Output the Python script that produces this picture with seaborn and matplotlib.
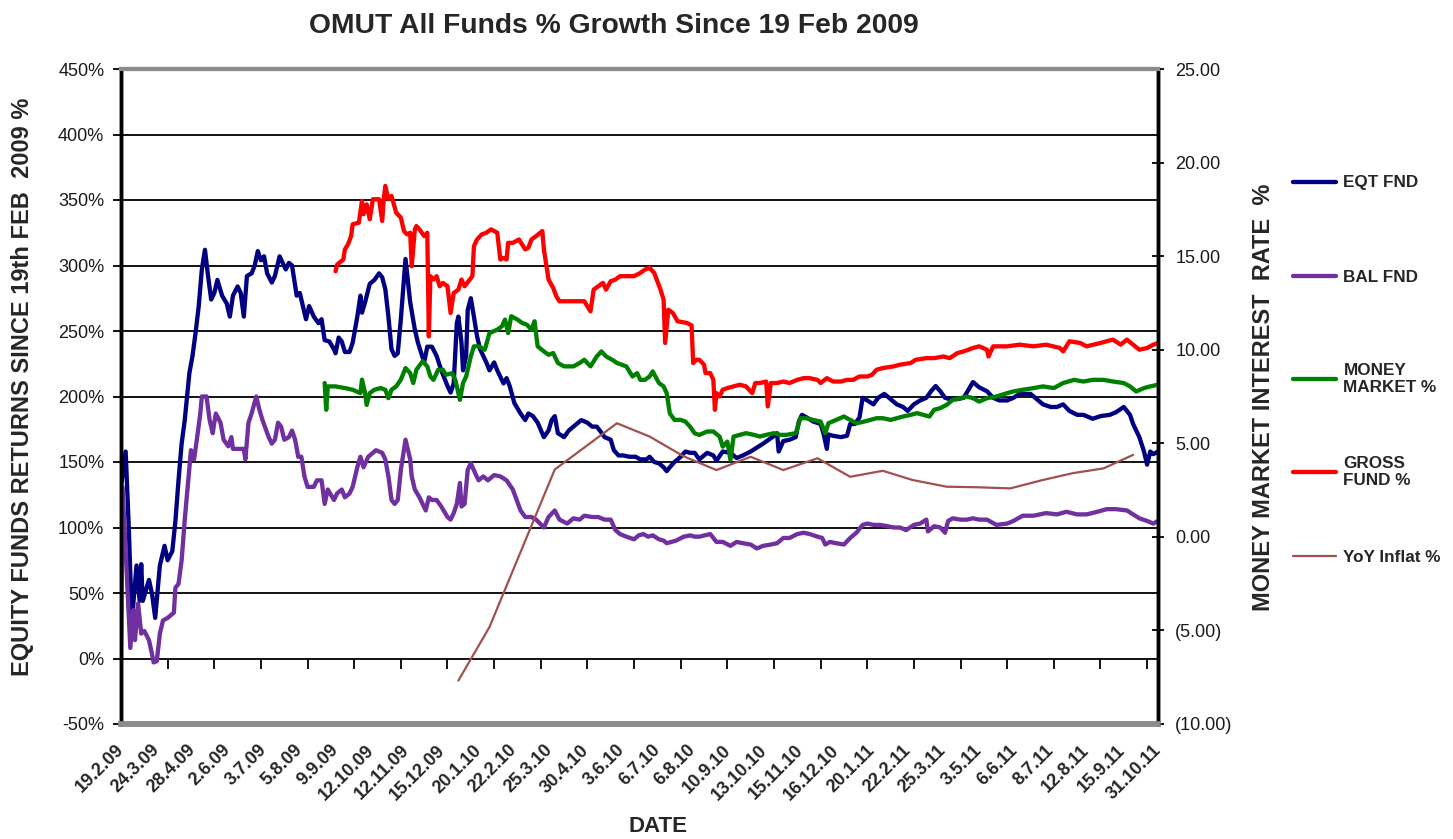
import matplotlib
matplotlib.use("Agg")
import matplotlib.pyplot as plt
import seaborn as sns
from matplotlib.ticker import MultipleLocator, FuncFormatter
from matplotlib.lines import Line2D

# ---------------- data (x = trading-day index since 19.2.09) ----------------
date_labels = ["19.2.09", "24.3.09", "28.4.09", "2.6.09", "3.7.09", "5.8.09", "9.9.09",
               "12.10.09", "12.11.09", "15.12.09", "20.1.10", "22.2.10", "25.3.10", "30.4.10",
               "3.6.10", "6.7.10", "6.8.10", "10.9.10", "13.10.10", "15.11.10", "16.12.10",
               "20.1.11", "22.2.11", "25.3.11", "3.5.11", "6.6.11", "8.7.11", "12.8.11",
               "15.9.11", "31.10.11"]
last_day = 667
label_every = 23
tick_every = 30

eqt_day = [0, 3, 5, 7, 10, 12, 13, 14, 18, 20, 22, 25, 28, 30, 33, 35, 37, 39, 41, 44, 46, 48, 50,
           52, 54, 56, 58, 60, 62, 65, 68, 70, 72, 75, 77, 79, 81, 84, 86, 88, 90, 92, 94, 97, 99,
           102, 104, 106, 108, 110, 113, 115, 117, 119, 121, 124, 127, 129, 131, 134, 137, 138,
           140, 142, 144, 147, 149, 152, 154, 155, 157, 160, 163, 166, 168, 170, 172, 174, 176,
           178, 180, 183, 186, 189, 191, 195, 197, 200, 203, 206, 210, 212, 214, 216, 217, 219,
           220, 222, 223, 225, 227, 229, 231, 233, 235, 237, 240, 242, 244, 246, 248, 250, 253,
           257, 260, 262, 265, 268, 272, 275, 277, 279, 281, 285, 288, 291, 294, 296, 300, 303,
           306, 308, 311, 315, 317, 320, 323, 327, 331, 334, 338, 340, 343, 346, 349, 351, 353,
           356, 360, 363, 366, 369, 372, 377, 381, 383, 387, 392, 396, 400, 405, 409, 413, 419,
           422, 423, 426, 430, 434, 436, 438, 441, 445, 450, 452, 454, 455, 458, 463, 467, 469,
           472, 475, 477, 480, 484, 487, 491, 495, 499, 503, 506, 510, 514, 518, 521, 524, 527,
           530, 533, 538, 542, 546, 548, 552, 557, 561, 565, 570, 574, 578, 585, 589, 593, 598,
           602, 606, 610, 615, 619, 625, 630, 636, 640, 645, 649, 651, 653, 655, 658, 660, 662,
           664, 667]
eqt_pct = [131, 158, 100, 29, 71, 44, 72, 44, 60, 49, 31, 71, 86, 75, 82, 105, 136, 164, 182, 218,
           231, 249, 269, 297, 312, 292, 274, 279, 289, 277, 271, 261, 277, 284, 279, 261, 292, 294,
           300, 311, 304, 307, 294, 287, 292, 307, 302, 297, 302, 300, 277, 279, 269, 259, 269, 261,
           256, 259, 243, 242, 236, 233, 245, 242, 234, 234, 241, 261, 277, 264, 272, 286, 289, 294,
           291, 282, 261, 236, 231, 233, 259, 305, 272, 251, 241, 226, 238, 238, 231, 220, 208, 203,
           210, 256, 261, 241, 220, 231, 266, 275, 261, 246, 236, 231, 226, 220, 226, 220, 215, 210,
           214, 208, 195, 187, 182, 187, 185, 180, 169, 174, 182, 185, 172, 169, 174, 177, 180, 182,
           180, 177, 177, 174, 169, 167, 159, 155, 155, 154, 154, 152, 152, 154, 150, 149, 146, 143,
           146, 150, 154, 158, 157, 157, 152, 157, 155, 151, 158, 157, 153, 155, 158, 161, 164, 169,
           172, 158, 166, 167, 169, 181, 186, 184, 181, 179, 171, 160, 171, 170, 169, 170, 179, 179,
           184, 199, 197, 194, 199, 202, 198, 194, 192, 189, 194, 197, 199, 204, 208, 204, 199, 198,
           198, 199, 207, 211, 207, 204, 199, 197, 197, 199, 202, 202, 198, 194, 192, 192, 194, 189,
           186, 186, 183, 185, 186, 188, 192, 186, 179, 174, 169, 158, 148, 158, 156, 158]

bal_day = [0, 1, 6, 8, 9, 11, 13, 15, 18, 20, 21, 23, 25, 27, 30, 34, 35, 37, 39, 41, 44, 45, 47,
           49, 51, 52, 55, 57, 59, 60, 61, 64, 66, 69, 71, 72, 75, 79, 80, 82, 84, 87, 89, 91, 95,
           97, 99, 101, 103, 105, 108, 110, 112, 114, 116, 118, 120, 124, 126, 129, 131, 133, 137,
           139, 142, 144, 147, 149, 152, 154, 156, 159, 162, 164, 168, 170, 172, 174, 176, 178,
           180, 183, 186, 187, 189, 192, 196, 198, 200, 203, 206, 210, 212, 214, 216, 218, 219,
           221, 223, 225, 228, 230, 233, 236, 240, 244, 248, 252, 257, 260, 264, 267, 272, 275,
           279, 282, 287, 291, 295, 298, 303, 307, 311, 315, 318, 321, 325, 330, 333, 336, 339,
           342, 346, 349, 351, 354, 357, 362, 366, 369, 372, 379, 383, 387, 392, 396, 400, 405,
           409, 413, 418, 422, 426, 430, 435, 439, 443, 448, 451, 453, 456, 460, 465, 469, 473,
           477, 480, 484, 488, 493, 497, 501, 505, 510, 514, 518, 519, 523, 527, 530, 532, 535,
           540, 544, 548, 552, 557, 563, 570, 574, 580, 587, 595, 602, 608, 615, 621, 628, 634,
           640, 647, 651, 655, 660, 664, 667]
bal_pct = [0, 131, 8, 37, 14, 42, 19, 21, 14, 3, -3, -2, 19, 29, 31, 35, 54, 57, 75, 106, 146,
           159, 152, 169, 187, 200, 200, 182, 172, 180, 187, 180, 167, 162, 169, 160, 160, 160,
           152, 180, 187, 200, 190, 182, 169, 164, 167, 180, 177, 167, 169, 174, 167, 154, 154,
           139, 131, 131, 136, 136, 118, 129, 121, 126, 129, 123, 126, 131, 146, 154, 146, 154,
           157, 159, 157, 152, 139, 121, 118, 121, 144, 167, 152, 139, 129, 123, 113, 123, 121,
           121, 116, 108, 106, 111, 118, 134, 116, 118, 144, 149, 141, 136, 139, 136, 140, 139,
           136, 129, 113, 108, 108, 106, 100, 108, 113, 106, 103, 107, 106, 109, 108, 108, 106,
           106, 98, 95, 93, 91, 94, 95, 93, 94, 91, 90, 88, 89, 90, 93, 94, 93, 93, 95, 89, 89,
           86, 89, 88, 87, 84, 86, 87, 88, 92, 92, 95, 96, 95, 93, 92, 87, 89, 88, 87, 92, 96,
           102, 103, 102, 102, 101, 100, 100, 98, 102, 103, 106, 97, 101, 100, 96, 105, 107, 106,
           106, 107, 106, 106, 102, 103, 105, 109, 109, 111, 110, 112, 110, 110, 112, 114, 114,
           113, 110, 107, 105, 103, 105]

mm_day = [131, 132, 133, 138, 144, 149, 154, 155, 157, 158, 160, 163, 167, 170, 172, 174, 177,
          180, 183, 186, 188, 190, 194, 197, 199, 201, 204, 207, 209, 213, 215, 217, 218, 220,
          222, 225, 227, 230, 234, 237, 242, 245, 247, 249, 251, 255, 258, 261, 264, 266, 268,
          272, 275, 278, 281, 285, 288, 291, 295, 298, 302, 306, 309, 312, 316, 319, 322, 325,
          329, 332, 334, 337, 340, 342, 346, 349, 351, 353, 356, 360, 363, 366, 369, 372, 377,
          381, 385, 387, 390, 392, 394, 398, 402, 407, 411, 415, 420, 424, 428, 434, 437, 441,
          445, 450, 453, 455, 460, 465, 469, 473, 478, 482, 486, 490, 495, 499, 503, 508, 512,
          516, 520, 523, 527, 531, 535, 540, 544, 548, 552, 557, 563, 570, 574, 580, 587, 593,
          600, 606, 613, 619, 625, 632, 638, 645, 649, 653, 658, 662, 667]
mm_rate = [8.22, 6.79, 8.04, 8.04, 7.95, 7.86, 7.68, 8.40, 7.68, 7.05, 7.68, 7.86, 7.95, 7.86,
           7.41, 7.86, 8.04, 8.40, 9.02, 8.75, 8.22, 8.93, 9.38, 9.11, 8.57, 8.39, 8.93, 8.93,
           8.66, 8.75, 8.39, 7.68, 7.32, 8.22, 8.57, 9.64, 10.18, 10.18, 10.00, 10.89, 11.07,
           11.25, 11.61, 10.89, 11.79, 11.61, 11.43, 11.34, 11.07, 11.52, 10.18, 9.91, 9.73,
           9.82, 9.29, 9.11, 9.11, 9.11, 9.29, 9.46, 9.11, 9.64, 9.91, 9.64, 9.46, 9.29, 9.20,
           9.11, 8.57, 8.75, 8.39, 8.39, 8.57, 8.84, 8.22, 8.04, 7.68, 6.60, 6.25, 6.25, 6.16,
           5.89, 5.53, 5.45, 5.63, 5.63, 5.36, 4.82, 5.09, 4.11, 5.36, 5.45, 5.54, 5.45, 5.36,
           5.45, 5.54, 5.45, 5.45, 5.54, 6.34, 6.34, 6.25, 6.16, 5.54, 6.07, 6.25, 6.43, 6.25,
           6.07, 6.16, 6.25, 6.34, 6.34, 6.25, 6.34, 6.43, 6.52, 6.61, 6.52, 6.43, 6.79, 6.88,
           7.05, 7.32, 7.41, 7.50, 7.41, 7.23, 7.41, 7.50, 7.68, 7.77, 7.86, 7.95, 8.04, 7.95,
           8.22, 8.39, 8.30, 8.39, 8.39, 8.30, 8.22, 8.04, 7.77, 7.95, 8.04, 8.13]

gross_day = [138, 139, 143, 144, 146, 148, 149, 153, 155, 156, 158, 160, 162, 166, 168, 169, 170,
             172, 174, 177, 180, 182, 184, 186, 187, 189, 190, 192, 195, 197, 198, 199, 201, 203,
             205, 207, 210, 212, 214, 217, 219, 221, 226, 227, 229, 232, 235, 238, 242, 244, 246,
             248, 249, 252, 256, 258, 260, 262, 264, 267, 271, 272, 275, 278, 280, 282, 287, 291,
             295, 298, 302, 304, 307, 310, 312, 315, 318, 321, 325, 330, 334, 337, 340, 343, 347,
             349, 350, 352, 355, 358, 364, 367, 368, 370, 372, 375, 376, 379, 381, 382, 383, 385,
             387, 390, 394, 398, 402, 406, 408, 411, 415, 416, 418, 422, 426, 430, 435, 439, 443,
             448, 450, 454, 458, 463, 467, 471, 475, 480, 483, 486, 490, 497, 501, 508, 511, 518,
             523, 529, 533, 538, 542, 548, 552, 557, 558, 561, 570, 578, 587, 595, 604, 606, 610,
             617, 621, 630, 638, 643, 647, 651, 655, 660, 664, 667]
gross_rate = [14.19, 14.55, 14.82, 15.36, 15.63, 16.07, 16.70, 16.79, 17.95, 17.24, 17.77, 16.97,
              18.04, 18.04, 16.88, 18.04, 18.75, 18.04, 18.22, 17.32, 17.06, 16.34, 16.16, 16.25,
              14.46, 16.43, 16.61, 16.43, 16.07, 16.25, 10.71, 13.93, 13.75, 13.93, 13.39, 13.57,
              13.39, 11.96, 13.03, 13.21, 13.75, 13.39, 13.93, 15.53, 15.89, 16.16, 16.25, 16.43,
              16.25, 14.82, 14.91, 14.82, 15.71, 15.71, 15.89, 15.62, 15.36, 15.44, 15.89, 16.07,
              16.34, 15.36, 13.75, 13.30, 12.85, 12.59, 12.59, 12.59, 12.59, 12.59, 12.05, 13.21,
              13.39, 13.57, 13.21, 13.66, 13.75, 13.93, 13.93, 13.93, 14.10, 14.28, 14.37, 14.10,
              13.21, 12.68, 10.36, 12.14, 11.96, 11.52, 11.43, 11.30, 9.29, 9.46, 9.46, 9.20,
              8.75, 8.75, 8.39, 6.79, 7.68, 7.50, 7.86, 7.95, 8.04, 8.13, 8.04, 7.68, 8.22, 8.22,
              8.30, 6.97, 8.22, 8.22, 8.30, 8.22, 8.39, 8.48, 8.48, 8.39, 8.22, 8.48, 8.30, 8.30,
              8.39, 8.39, 8.57, 8.57, 8.66, 8.93, 9.02, 9.11, 9.20, 9.29, 9.46, 9.55, 9.55, 9.64,
              9.55, 9.82, 9.91, 10.09, 10.18, 10.00, 9.64, 10.18, 10.18, 10.27, 10.18, 10.27,
              10.09, 9.91, 10.45, 10.36, 10.18, 10.36, 10.54, 10.27, 10.54, 10.27, 10.00, 10.09,
              10.27, 10.36]

infl_day = [217, 237, 279, 319, 340, 362, 383, 405, 426, 448, 469, 490, 509, 531, 551, 572, 593,
            612, 632, 651]
infl_rate = [-7.68, -4.82, 3.60, 6.07, 5.36, 4.30, 3.57, 4.28, 3.57, 4.20, 3.21, 3.53, 3.04, 2.68,
             2.65, 2.59, 3.04, 3.40, 3.66, 4.38]

series_names = ["EQT FND", "BAL FND", "MONEY\nMARKET %", "GROSS\nFUND %", "YoY Inflat %"]
series_colors = ["#000080", "#7030A0", "#008000", "#FF0000", "#A0504D"]

# ---------------- style ----------------
sns.set_theme(style="white")
plt.rcParams["font.family"] = ["Liberation Sans", "DejaVu Sans"]

fig = plt.figure(figsize=(14.53, 8.39), dpi=100)
ax = fig.add_axes([121 / 1453, 115 / 839, 1037 / 1453, 655 / 839])
ax2 = ax.twinx()

main_lw = 3.1
kw = dict(estimator=None, sort=False, legend=False)
sns.lineplot(x=eqt_day, y=eqt_pct, ax=ax, color=series_colors[0], lw=main_lw,
             solid_joinstyle="round", **kw)
sns.lineplot(x=bal_day, y=bal_pct, ax=ax, color=series_colors[1], lw=main_lw,
             solid_joinstyle="round", **kw)
sns.lineplot(x=mm_day, y=mm_rate, ax=ax2, color=series_colors[2], lw=main_lw,
             solid_joinstyle="round", **kw)
sns.lineplot(x=gross_day, y=gross_rate, ax=ax2, color=series_colors[3], lw=main_lw,
             solid_joinstyle="round", **kw)
sns.lineplot(x=infl_day, y=infl_rate, ax=ax2, color=series_colors[4], lw=1.6, **kw)

ax.set_xlim(0, last_day)
ax.set_ylim(-50, 450)
ax2.set_ylim(-10, 25)

# gridlines
ax.yaxis.set_major_locator(MultipleLocator(50))
ax.yaxis.grid(True, color="black", lw=1.3)
ax.xaxis.grid(False)
ax.set_axisbelow(True)

# left axis
ax.yaxis.set_major_formatter(FuncFormatter(lambda v, p: f"{v:.0f}%"))
ax.tick_params(axis="y", left=True, direction="out", length=6, width=1.3, color="black",
               labelsize=13, pad=6, labelcolor="#1a1a1a")

# right axis
ax2.yaxis.set_major_locator(MultipleLocator(5))
ax2.yaxis.set_major_formatter(FuncFormatter(
    lambda v, p: f"{v:.2f}" if v >= 0 else f"({-v:.2f})"))
ax2.tick_params(axis="y", right=True, direction="inout", length=9, width=1.3, color="black",
                labelsize=13, pad=8, labelcolor="#1a1a1a")
ax2.grid(False)

# x axis labels (category labels)
ax.set_xticks(list(range(0, last_day + 1, label_every)))
ax.set_xticklabels(date_labels, rotation=45, ha="right", va="center",
                   rotation_mode="anchor", fontweight="bold", fontsize=13)
ax.tick_params(axis="x", bottom=True, length=0, pad=17)

# x tick marks on the 0% line
sec = ax.secondary_xaxis(0.1)
sec.set_xticks(list(range(tick_every, last_day + 1, tick_every)))
sec.tick_params(axis="x", bottom=True, direction="out", length=7, width=1.3, color="black",
                labelbottom=False)
sec.spines["bottom"].set_visible(False)

# spines
for a in (ax, ax2):
    a.spines["top"].set_color("#8c8c8c")
    a.spines["top"].set_linewidth(3)
    a.spines["bottom"].set_color("#8c8c8c")
    a.spines["bottom"].set_linewidth(4)
    a.spines["left"].set_color("black")
    a.spines["left"].set_linewidth(2.5)
    a.spines["right"].set_color("black")
    a.spines["right"].set_linewidth(2.5)

# axis titles
ax.set_ylabel("EQUITY FUNDS RETURNS SINCE 19th FEB  2009 %", fontsize=17,
              fontweight="bold", va="center")
ax.yaxis.set_label_coords((23 - 121) / 1037, (724 - 387) / 655)
ax2.set_ylabel("MONEY MARKET INTEREST  RATE  %", fontsize=17, fontweight="bold",
               va="center", rotation=90)
ax2.yaxis.set_label_coords((1263 - 121) / 1037, (724 - 397) / 655)
ax.set_xlabel("DATE", fontsize=16, fontweight="bold", va="center")
ax.xaxis.set_label_coords((658 - 121) / 1037, (724 - 827) / 655)

fig.text(614 / 1453, 1 - 26 / 839, "OMUT All Funds % Growth Since 19 Feb 2009",
         ha="center", va="center", fontsize=20.3, fontweight="bold")

# legend (one block per entry, as in the original)
legend_y = [183, 277, 379, 472, 557]
legend_lw = [main_lw, main_lw, main_lw, main_lw, 1.6]
for name, col, yy, lw in zip(series_names, series_colors, legend_y, legend_lw):
    fig.legend(handles=[Line2D([], [], color=col, lw=lw)], labels=[name],
               loc="center left", bbox_to_anchor=(1293 / 1453, 1 - yy / 839),
               frameon=False, borderpad=0, borderaxespad=0, handlelength=2.5,
               handletextpad=0.45, prop={"weight": "bold", "size": 12.3})

fig.savefig("out.png", dpi=100)
